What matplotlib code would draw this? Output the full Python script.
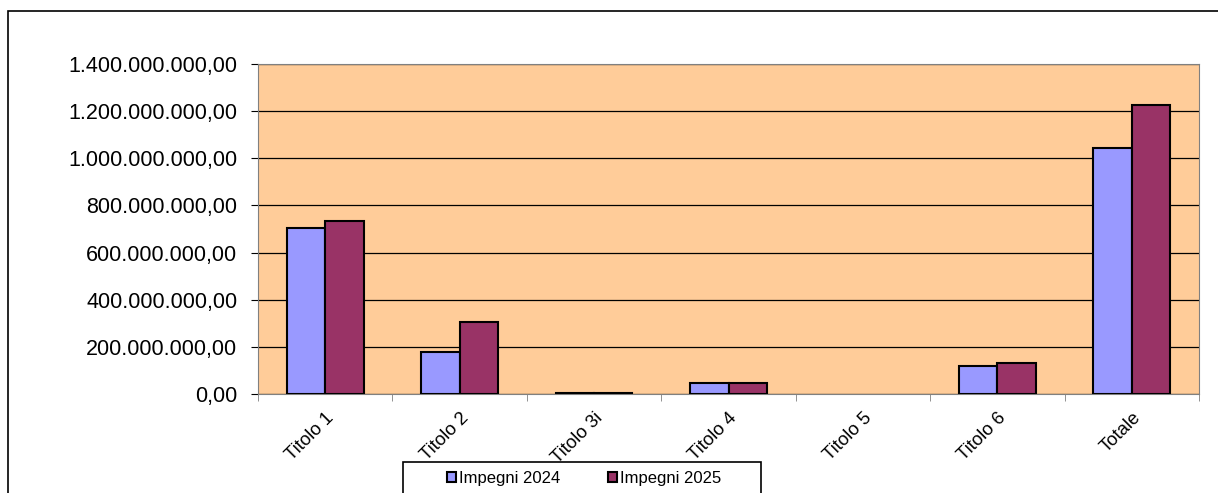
import matplotlib.pyplot as plt
import matplotlib.ticker as mticker
import numpy as np

plt.rcParams['font.family'] = ['Liberation Sans', 'DejaVu Sans']

categorie = ["Titolo 1", "Titolo 2", "Titolo 3i", "Titolo 4", "Titolo 5", "Titolo 6", "Totale"]
impegni_2024 = [704000000, 178000000, 4000000, 47000000, 0, 119000000, 1044000000]
impegni_2025 = [734000000, 305000000, 4000000, 46000000, 0, 131000000, 1226000000]


def formato_it(v, pos):
    s = f"{v:,.2f}"
    return s.replace(",", "X").replace(".", ",").replace("X", ".")


fig = plt.figure(figsize=(12.18, 4.93), dpi=100)
ax = fig.add_axes([258 / 1218, (493 - 394) / 493, 941 / 1218, 330 / 493])
ax.set_facecolor('#FFCC99')

x = np.arange(len(categorie))
w = 0.285
b1 = ax.bar(x - w / 2, impegni_2024, w, color='#9999FF', edgecolor='black', lw=1.5,
            label='Impegni 2024', zorder=3)
b2 = ax.bar(x + w / 2, impegni_2025, w, color='#993366', edgecolor='black', lw=1.5,
            label='Impegni 2025', zorder=3)
# niente contorno per i valori nulli
for bars, vals in ((b1, impegni_2024), (b2, impegni_2025)):
    for rect, v in zip(bars, vals):
        if v == 0:
            rect.set_visible(False)

ax.set_xlim(-0.5, len(categorie) - 0.5)
ax.set_ylim(0, 1.4e9)
ax.yaxis.set_major_locator(mticker.MultipleLocator(2e8))
ax.yaxis.set_major_formatter(mticker.FuncFormatter(formato_it))
ax.grid(axis='y', color='black', lw=0.9, zorder=1)

ax.set_xticks(x)
ax.set_xticklabels(categorie, rotation=45, ha='right', rotation_mode='anchor')
ax.set_xticks(np.arange(-0.5, len(categorie)), minor=True)
ax.tick_params(axis='x', which='major', length=0, pad=11, labelsize=13.3)
ax.tick_params(axis='x', which='minor', length=5, color='gray', direction='out')
ax.tick_params(axis='y', length=5, color='black', labelsize=15.5, pad=10)

for side in ['left', 'right', 'top', 'bottom']:
    ax.spines[side].set_color('gray')

# bordo esterno
fig.patches.append(plt.Rectangle((8 / 1218, -0.1), 1.2, (493 - 11) / 493 + 0.1,
                                 transform=fig.transFigure, fill=False,
                                 edgecolor='black', lw=1.2))

# riquadro legenda
fig.patches.append(plt.Rectangle((403 / 1218, -0.1), (761 - 403) / 1218, (493 - 462) / 493 + 0.1,
                                 transform=fig.transFigure, facecolor='white',
                                 edgecolor='black', lw=1.2))
leg = fig.legend(loc='center', bbox_to_anchor=(584 / 1218, (493 - 478) / 493),
                 ncol=2, frameon=False, fontsize=12, handlelength=0.55, handleheight=0.55,
                 handletextpad=0.15, columnspacing=2.9, borderaxespad=0)

fig.savefig('out.png', dpi=100)
